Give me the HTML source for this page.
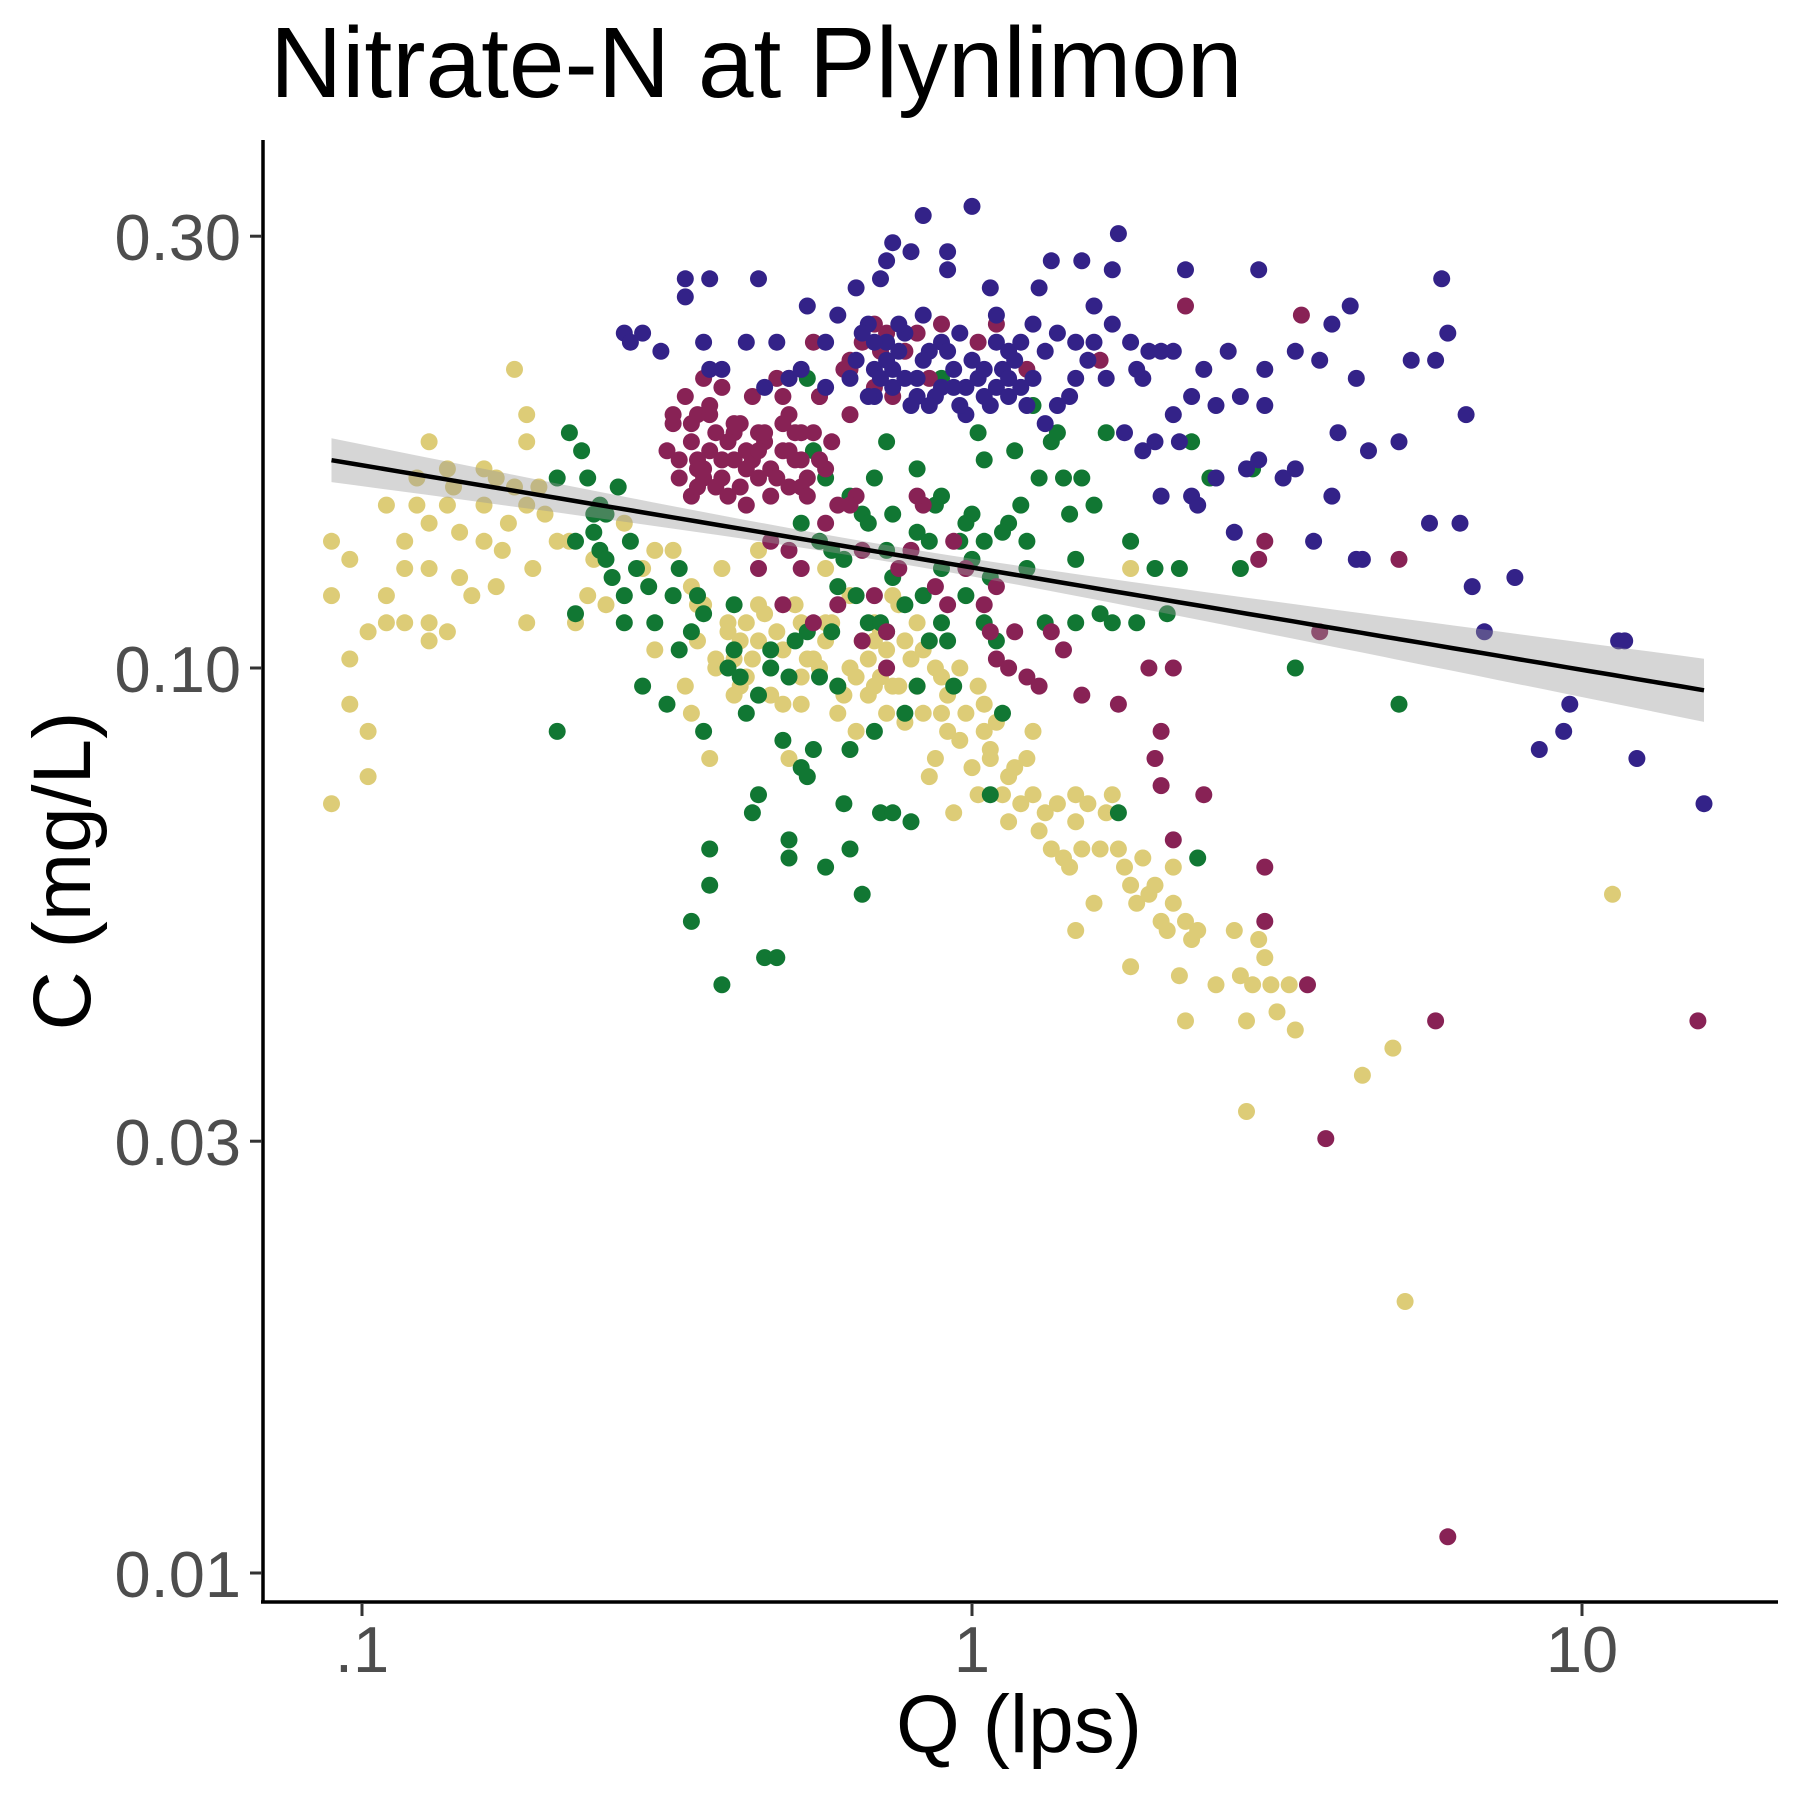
<!DOCTYPE html>
<html><head><meta charset="utf-8"><title>Nitrate-N at Plynlimon</title>
<style>html,body{margin:0;padding:0;background:#fff}svg{display:block}text{font-family:"Liberation Sans",Arial,sans-serif}</style>
</head><body>
<svg id="chart" width="1800" height="1800" viewBox="0 0 1800 1800" xmlns="http://www.w3.org/2000/svg">
<rect width="1800" height="1800" fill="#fff"/>
<text x="270" y="97" font-size="100" fill="#000">Nitrate-N at Plynlimon</text>
<g id="points"></g>
<g id="smooth"></g>
<g id="axes">
<line x1="263" y1="140" x2="263" y2="1603" stroke="#000" stroke-width="3.5"/>
<line x1="261" y1="1602" x2="1778" y2="1602" stroke="#000" stroke-width="3.5"/>
</g>
<g id="ticks"></g>
<text x="1019" y="1752" font-size="82" text-anchor="middle" fill="#000">Q (lps)</text>
<text transform="translate(90,871) rotate(-90)" font-size="82" text-anchor="middle" fill="#000">C (mg/L)</text>
</svg>
<script>
// data in log10 units (log10 Q in lps, log10 C in mg/L)
const xTickVals=[0.1,1,10];
const xTickLabels=[".1","1","10"];
const yTickVals=[0.01,0.03,0.10,0.30];
const yTickLabels=["0.01","0.03","0.10","0.30"];
const trendIntercept=-0.889;
const trendSlope=-0.113;
const trendRange=[-1.05,1.20];

const yellowQ=[-1.05,-1.05,-1.05,-1.02,-1.02,-1.02,-0.99,-0.99,-0.99,-0.96,-0.96,-0.96,-0.93,-0.93,-0.93,-0.91,-0.91,-0.89,-0.89,-0.89,-0.89,-0.89,-0.86,-0.86,-0.86,-0.84,-0.84,-0.82,-0.80,-0.80,-0.78,-0.78,-0.77,-0.76,-0.75,-0.73,-0.73,-0.73,-0.73,-0.72,-0.71,-0.68,-0.65,-0.63,-0.60,-0.57,-0.54,-0.52,-0.52,-0.49,-0.47,-0.46,-0.45,-0.43,-0.42,-0.41,-0.40,-0.39,-0.38,-0.37,-0.35,-0.35,-0.33,-0.31,-0.30,-0.28,-0.26,-0.24,-0.24,-0.22,-0.22,-0.20,-0.20,-0.19,-0.18,-0.17,-0.16,-0.15,-0.14,-0.14,-0.13,-0.12,-0.11,-0.10,-0.09,-0.09,-0.08,-0.07,-0.06,-0.05,-0.04,-0.03,-0.02,-0.01,0.00,0.01,0.02,0.02,0.03,0.04,0.05,0.06,0.07,0.08,0.09,0.10,0.11,0.12,0.13,0.14,0.15,0.16,0.17,0.17,0.18,0.19,0.20,0.21,0.22,0.23,0.24,0.25,0.26,0.27,0.28,0.29,0.31,0.32,0.33,0.33,0.34,0.35,0.36,0.37,0.40,0.43,0.44,0.45,0.46,0.47,0.48,0.49,0.50,0.52,0.53,0.26,0.17,0.35,0.45,0.64,0.69,0.71,1.05,0.26,0.30,-0.46,-0.45,-0.28,-0.37,-0.24,-0.16,-0.13,-0.28,-0.31,-0.35,-0.39,-0.05,0.01,-0.16,
-0.44,-0.40,-0.36,-0.32,-0.29,-0.25,-0.21,-0.17,-0.12,-0.08,-0.04,-0.42,-0.38,-0.34,-0.27,-0.23,-0.19,-0.15,-0.11,-0.06,-0.02,0.03,0.06,0.10,-0.85,-0.80,-0.75,-0.70,-0.66,-0.62];
const yellowC=[-0.86,-0.92,-1.15,-0.88,-0.99,-1.04,-1.07,-1.12,-0.96,-0.82,-0.92,-0.95,-0.86,-0.89,-0.95,-0.79,-0.82,-0.75,-0.84,-0.89,-0.95,-0.97,-0.78,-0.82,-0.96,-0.85,-0.90,-0.92,-0.78,-0.82,-0.79,-0.91,-0.87,-0.84,-0.67,-0.72,-0.75,-0.82,-0.95,-0.89,-0.80,-0.86,-0.95,-0.92,-0.93,-0.84,-0.89,-0.87,-0.98,-0.87,-1.02,-0.91,-0.93,-1.10,-0.99,-0.89,-0.95,-1.03,-0.97,-1.01,-0.87,-0.93,-1.03,-1.04,-1.10,-1.01,-0.99,-0.89,-0.97,-1.02,-1.05,-0.92,-1.00,-1.07,-0.97,-1.03,-0.95,-1.01,-0.98,-1.05,-1.02,-0.93,-0.97,-0.99,-0.95,-1.02,-1.05,-1.12,-1.10,-1.01,-1.07,-1.16,-1.00,-1.05,-1.11,-1.14,-1.04,-1.07,-1.10,-1.06,-1.14,-1.17,-1.11,-1.15,-1.10,-1.14,-1.18,-1.16,-1.20,-1.15,-1.21,-1.22,-1.14,-1.17,-1.20,-1.15,-1.26,-1.20,-1.16,-1.14,-1.20,-1.22,-1.24,-1.26,-1.21,-1.25,-1.28,-1.29,-1.26,-1.22,-1.34,-1.28,-1.30,-1.29,-1.35,-1.29,-1.34,-1.39,-1.35,-1.30,-1.32,-1.35,-1.38,-1.35,-1.40,-1.33,-1.29,-1.39,-1.49,-1.45,-1.42,-1.70,-1.25,-0.89,-1.24,-1.05,-0.97,-1.04,-0.95,-0.95,-0.97,-0.92,-0.95,-0.98,-0.97,-0.99,-1.05,-1.02,-1.02,
-0.93,-0.96,-0.99,-0.96,-0.93,-1.00,-1.03,-0.99,-1.02,-0.98,-1.03,-1.00,-1.02,-0.94,-0.99,-0.95,-1.01,-0.96,-1.06,-1.00,-1.08,-1.09,-1.12,-1.07,-0.80,-0.86,-0.80,-0.83,-0.86,-0.88];

const greenQ=[-0.68,-0.68,-0.66,-0.65,-0.65,-0.64,-0.63,-0.62,-0.61,-0.61,-0.60,-0.58,-0.57,-0.55,-0.54,-0.52,-0.50,-0.49,-0.48,-0.46,-0.45,-0.44,-0.43,-0.43,-0.41,-0.39,-0.38,-0.37,-0.36,-0.35,-0.34,-0.33,-0.32,-0.31,-0.30,-0.30,-0.29,-0.28,-0.27,-0.26,-0.25,-0.24,-0.23,-0.22,-0.21,-0.20,-0.20,-0.18,-0.17,-0.16,-0.15,-0.14,-0.13,-0.11,-0.10,-0.09,-0.08,-0.07,-0.06,-0.05,-0.04,-0.03,-0.02,-0.01,0.00,0.01,0.02,0.02,0.03,0.04,0.05,0.06,0.07,0.08,0.09,0.10,0.11,0.12,0.13,0.14,0.15,0.16,0.17,0.17,0.18,0.20,0.21,0.22,0.23,0.24,0.26,0.27,0.30,0.32,0.34,0.36,0.37,0.39,0.44,0.46,0.53,0.70,-0.27,-0.26,-0.24,-0.20,-0.18,-0.28,-0.23,-0.16,-0.13,-0.09,-0.05,0.00,0.02,-0.46,-0.39,-0.35,-0.30,-0.22,-0.14,-0.05,-0.14,
-0.62,-0.59,-0.56,-0.53,-0.60,-0.57,-0.25,-0.21,-0.17,-0.13,-0.09,-0.05,-0.01,0.03,-0.19,-0.15,-0.11,-0.07,0.05,0.09,-0.27,-0.33,-0.40,-0.44,-0.48];
const greenC=[-1.07,-0.79,-0.74,-0.86,-0.94,-0.76,-0.79,-0.83,-0.82,-0.87,-0.83,-0.80,-0.95,-0.89,-1.02,-0.95,-1.04,-0.92,-0.89,-1.28,-0.92,-1.07,-1.20,-1.24,-1.35,-0.98,-1.01,-1.05,-1.16,-1.14,-1.32,-1.00,-1.32,-1.08,-1.19,-1.21,-0.97,-1.11,-1.12,-1.09,-1.01,-1.22,-0.96,-1.02,-1.15,-1.09,-1.20,-1.25,-0.95,-1.07,-1.16,-0.96,-1.16,-1.05,-1.17,-1.02,-0.92,-0.86,-0.82,-0.95,-0.97,-1.02,-0.86,-0.92,-0.83,-0.74,-0.86,-0.95,-1.14,-0.97,-1.05,-0.84,-0.76,-0.82,-0.89,-0.71,-0.79,-0.95,-0.75,-0.74,-0.79,-0.83,-0.88,-0.95,-0.79,-0.82,-0.94,-0.74,-0.95,-1.16,-0.86,-0.95,-0.89,-0.94,-0.89,-0.75,-1.21,-0.79,-0.89,-0.78,-1.00,-1.04,-0.68,-0.76,-0.79,-0.81,-0.83,-0.84,-0.87,-0.79,-0.83,-0.78,-0.81,-0.88,-0.77,-0.96,-0.93,-1.03,-1.01,-0.91,-0.87,-0.68,-0.75,
-0.85,-0.90,-0.86,-0.91,-0.88,-0.92,-0.86,-0.88,-0.84,-0.90,-0.85,-0.89,-0.84,-0.90,-0.92,-0.95,-0.93,-0.97,-0.85,-0.86,-0.96,-0.98,-1.00,-0.94,-0.98];

const purpleQ=[-0.49,-0.48,-0.47,-0.46,-0.45,-0.45,-0.44,-0.43,-0.42,-0.41,-0.40,-0.39,-0.38,-0.37,-0.36,-0.35,-0.34,-0.33,-0.32,-0.31,-0.30,-0.30,-0.29,-0.28,-0.27,-0.26,-0.25,-0.24,-0.23,-0.22,-0.21,-0.20,-0.19,-0.18,-0.16,-0.14,-0.13,-0.11,-0.09,-0.07,-0.05,0.01,0.04,0.09,0.21,0.35,0.54,-0.46,-0.43,-0.39,-0.35,-0.31,-0.28,-0.44,-0.37,-0.35,-0.33,-0.31,-0.30,-0.28,-0.26,-0.24,-0.22,-0.20,-0.18,-0.16,-0.14,-0.14,-0.12,-0.10,-0.08,-0.06,-0.04,-0.03,-0.01,0.02,0.03,0.04,0.06,0.07,0.09,0.11,0.13,0.15,0.18,0.24,0.29,0.31,0.30,0.33,0.33,0.38,0.31,0.47,0.48,0.48,0.48,0.55,0.57,0.58,0.70,0.76,0.78,1.19,0.04,-0.18,-0.09,-0.20,-0.15,-0.45,-0.41,
-0.50,-0.48,-0.46,-0.44,-0.42,-0.40,-0.38,-0.36,-0.34,-0.32,-0.30,-0.28,-0.26,-0.49,-0.45,-0.41,-0.37,-0.33,-0.29,-0.25,-0.43,-0.39,-0.35,-0.31,-0.27,-0.30,-0.25,-0.20,-0.16];
const purpleC=[-0.73,-0.77,-0.70,-0.75,-0.78,-0.72,-0.79,-0.76,-0.74,-0.69,-0.81,-0.77,-0.73,-0.76,-0.70,-0.79,-0.75,-0.78,-0.68,-0.76,-0.72,-0.80,-0.77,-0.74,-0.79,-0.64,-0.70,-0.78,-0.75,-0.82,-0.67,-0.72,-0.81,-0.64,-0.62,-0.63,-0.70,-0.65,-0.63,-0.68,-0.62,-0.64,-0.62,-0.67,-0.66,-0.60,-0.61,-0.81,-0.72,-0.74,-0.74,-0.73,-0.77,-0.68,-0.82,-0.89,-0.86,-0.93,-0.87,-0.89,-0.95,-0.84,-0.93,-0.82,-0.97,-0.92,-0.96,-1.00,-0.89,-0.87,-0.82,-0.91,-0.93,-0.86,-0.89,-0.93,-0.96,-0.99,-1.00,-0.96,-1.01,-1.02,-0.96,-0.98,-1.03,-1.04,-1.00,-1.07,-1.10,-1.19,-1.00,-1.14,-1.13,-0.88,-0.86,-1.22,-1.28,-1.35,-0.96,-1.52,-0.88,-1.39,-1.96,-1.39,-0.91,-0.87,-0.81,-0.67,-0.65,-0.77,-0.77,
-0.76,-0.79,-0.73,-0.78,-0.80,-0.75,-0.80,-0.77,-0.74,-0.79,-0.76,-0.80,-0.74,-0.72,-0.80,-0.79,-0.78,-0.81,-0.74,-0.77,-0.71,-0.73,-0.76,-0.70,-0.81,-0.68,-0.70,-0.66,-0.69];

const indigoQ=[-0.57,-0.56,-0.54,-0.51,-0.47,-0.47,-0.43,-0.44,-0.43,-0.41,-0.37,-0.35,-0.34,-0.32,-0.30,-0.28,-0.27,-0.24,-0.22,-0.19,-0.17,-0.15,-0.14,-0.13,-0.10,-0.08,-0.04,-0.04,0.00,0.03,0.04,0.06,0.08,0.10,0.11,0.13,0.17,0.18,0.20,0.23,0.24,0.26,0.28,0.29,0.31,0.33,0.35,0.38,0.42,0.44,0.47,0.48,0.53,0.57,0.59,0.62,0.63,0.65,0.70,0.72,0.76,0.77,0.78,0.81,0.75,0.80,0.82,0.84,0.89,0.93,0.97,0.98,1.06,1.07,1.09,1.20,0.60,0.63,0.64,0.56,0.53,0.51,0.47,0.45,0.43,0.40,0.36,0.34,0.33,0.30,0.28,0.31,0.25,0.22,0.19,0.17,0.16,0.14,0.12,-0.16,-0.13,-0.09,-0.07,-0.03,-0.01,0.01,0.02,0.04,0.06,0.08,0.10,-0.14,-0.11,-0.05,-0.01,-0.16,-0.20,-0.24,0.36,0.40,0.48,0.59,0.37,-0.13,-0.09,-0.05,-0.16,
-0.19,-0.17,-0.15,-0.12,-0.10,-0.08,-0.06,-0.04,-0.02,0.00,0.03,0.05,0.07,0.09,-0.18,-0.14,-0.11,-0.07,-0.03,0.02,0.06,-0.12,-0.08,-0.02,0.04,0.12,0.14,0.20,0.23,0.27];
const indigoC=[-0.63,-0.64,-0.63,-0.65,-0.57,-0.59,-0.57,-0.64,-0.67,-0.67,-0.64,-0.57,-0.69,-0.64,-0.68,-0.67,-0.60,-0.64,-0.61,-0.58,-0.62,-0.57,-0.55,-0.53,-0.54,-0.50,-0.54,-0.56,-0.49,-0.58,-0.64,-0.65,-0.64,-0.62,-0.58,-0.55,-0.64,-0.55,-0.60,-0.56,-0.52,-0.64,-0.68,-0.65,-0.65,-0.65,-0.56,-0.67,-0.65,-0.70,-0.56,-0.67,-0.65,-0.66,-0.62,-0.60,-0.68,-0.76,-0.75,-0.66,-0.66,-0.57,-0.63,-0.72,-0.84,-0.84,-0.91,-0.96,-0.90,-1.09,-1.07,-1.04,-0.97,-0.97,-1.10,-1.15,-0.74,-0.88,-0.88,-0.86,-0.78,-0.79,-0.77,-0.78,-0.85,-0.79,-0.81,-0.75,-0.72,-0.75,-0.76,-0.81,-0.74,-0.68,-0.66,-0.68,-0.70,-0.71,-0.73,-0.67,-0.69,-0.68,-0.65,-0.67,-0.69,-0.68,-0.67,-0.69,-0.70,-0.69,-0.68,-0.64,-0.63,-0.64,-0.72,-0.70,-0.68,-0.69,-0.70,-0.71,-0.71,-0.81,-0.82,-0.67,-0.70,-0.69,-0.64,
-0.66,-0.70,-0.68,-0.65,-0.71,-0.66,-0.70,-0.65,-0.71,-0.66,-0.71,-0.67,-0.66,-0.71,-0.63,-0.66,-0.68,-0.71,-0.69,-0.70,-0.68,-0.62,-0.61,-0.63,-0.61,-0.65,-0.63,-0.64,-0.62,-0.67];

// axis functions (log scales)
const X0=972, XDEC=610, Y0=668, YDEC=905;
function xScale(lq){return X0+lq*XDEC;}
function yScale(lc){return Y0-(lc+1)*YDEC;}
const NS="http://www.w3.org/2000/svg";
const pts=document.getElementById('points');
function drawSeries(qs,cs,color,name){
  const g=document.createElementNS(NS,'g');
  
  
  const n=Math.min(qs.length,cs.length);
  for(let i=0;i<n;i++){
    const c=document.createElementNS(NS,'circle');
    c.setAttribute('cx',xScale(qs[i]).toFixed(1));
    c.setAttribute('cy',yScale(cs[i]).toFixed(1));
    c.setAttribute('r','8.5');
    c.setAttribute('fill',color);
    
    
    g.appendChild(c);
  }
  pts.appendChild(g);
}
drawSeries(yellowQ,yellowC,'#DDCC77','yellow');
drawSeries(greenQ,greenC,'#117733','green');
drawSeries(purpleQ,purpleC,'#882255','purple');
drawSeries(indigoQ,indigoC,'#332288','indigo');

// trend line + confidence band
const sm=document.getElementById('smooth');
let up=[],lo=[],ln=[];
for(let i=0;i<=60;i++){
  const lq=trendRange[0]+(trendRange[1]-trendRange[0])*i/60;
  const m=trendIntercept+trendSlope*lq;
  const se=Math.sqrt(0.009*0.009+0.025*0.025*(lq+0.15)*(lq+0.15));
  up.push(xScale(lq).toFixed(1)+','+yScale(m+se).toFixed(1));
  lo.unshift(xScale(lq).toFixed(1)+','+yScale(m-se).toFixed(1));
  ln.push(xScale(lq).toFixed(1)+','+yScale(m).toFixed(1));
}
const band=document.createElementNS(NS,'polygon');
band.setAttribute('points',up.concat(lo).join(' '));
band.setAttribute('fill','#999999');
band.setAttribute('fill-opacity','0.4');


sm.appendChild(band);
const line=document.createElementNS(NS,'polyline');
line.setAttribute('points',ln.join(' '));
line.setAttribute('fill','none');
line.setAttribute('stroke','#000');
line.setAttribute('stroke-width','4.5');


sm.appendChild(line);

// ticks
const tk=document.getElementById('ticks');
xTickVals.forEach((v,i)=>{
  const x=xScale(Math.log10(v));
  const l=document.createElementNS(NS,'line');
  l.setAttribute('x1',x);l.setAttribute('x2',x);l.setAttribute('y1',1604);l.setAttribute('y2',1616);
  l.setAttribute('stroke','#333');l.setAttribute('stroke-width','3');
  
  
  tk.appendChild(l);
  const t=document.createElementNS(NS,'text');
  t.setAttribute('x',x);t.setAttribute('y',1672);
  t.setAttribute('text-anchor','middle');t.setAttribute('font-size','65');t.setAttribute('fill','#4D4D4D');
  t.textContent=xTickLabels[i];
  
  
  tk.appendChild(t);
});
yTickVals.forEach((v,i)=>{
  const y=yScale(Math.log10(v));
  const l=document.createElementNS(NS,'line');
  l.setAttribute('x1',250);l.setAttribute('x2',262);l.setAttribute('y1',y);l.setAttribute('y2',y);
  l.setAttribute('stroke','#333');l.setAttribute('stroke-width','3');
  
  
  tk.appendChild(l);
  const t=document.createElementNS(NS,'text');
  t.setAttribute('x',241);t.setAttribute('y',y+24);
  t.setAttribute('text-anchor','end');t.setAttribute('font-size','65');t.setAttribute('fill','#4D4D4D');
  t.textContent=yTickLabels[i];
  
  
  tk.appendChild(t);
});
</script>
</body></html>
